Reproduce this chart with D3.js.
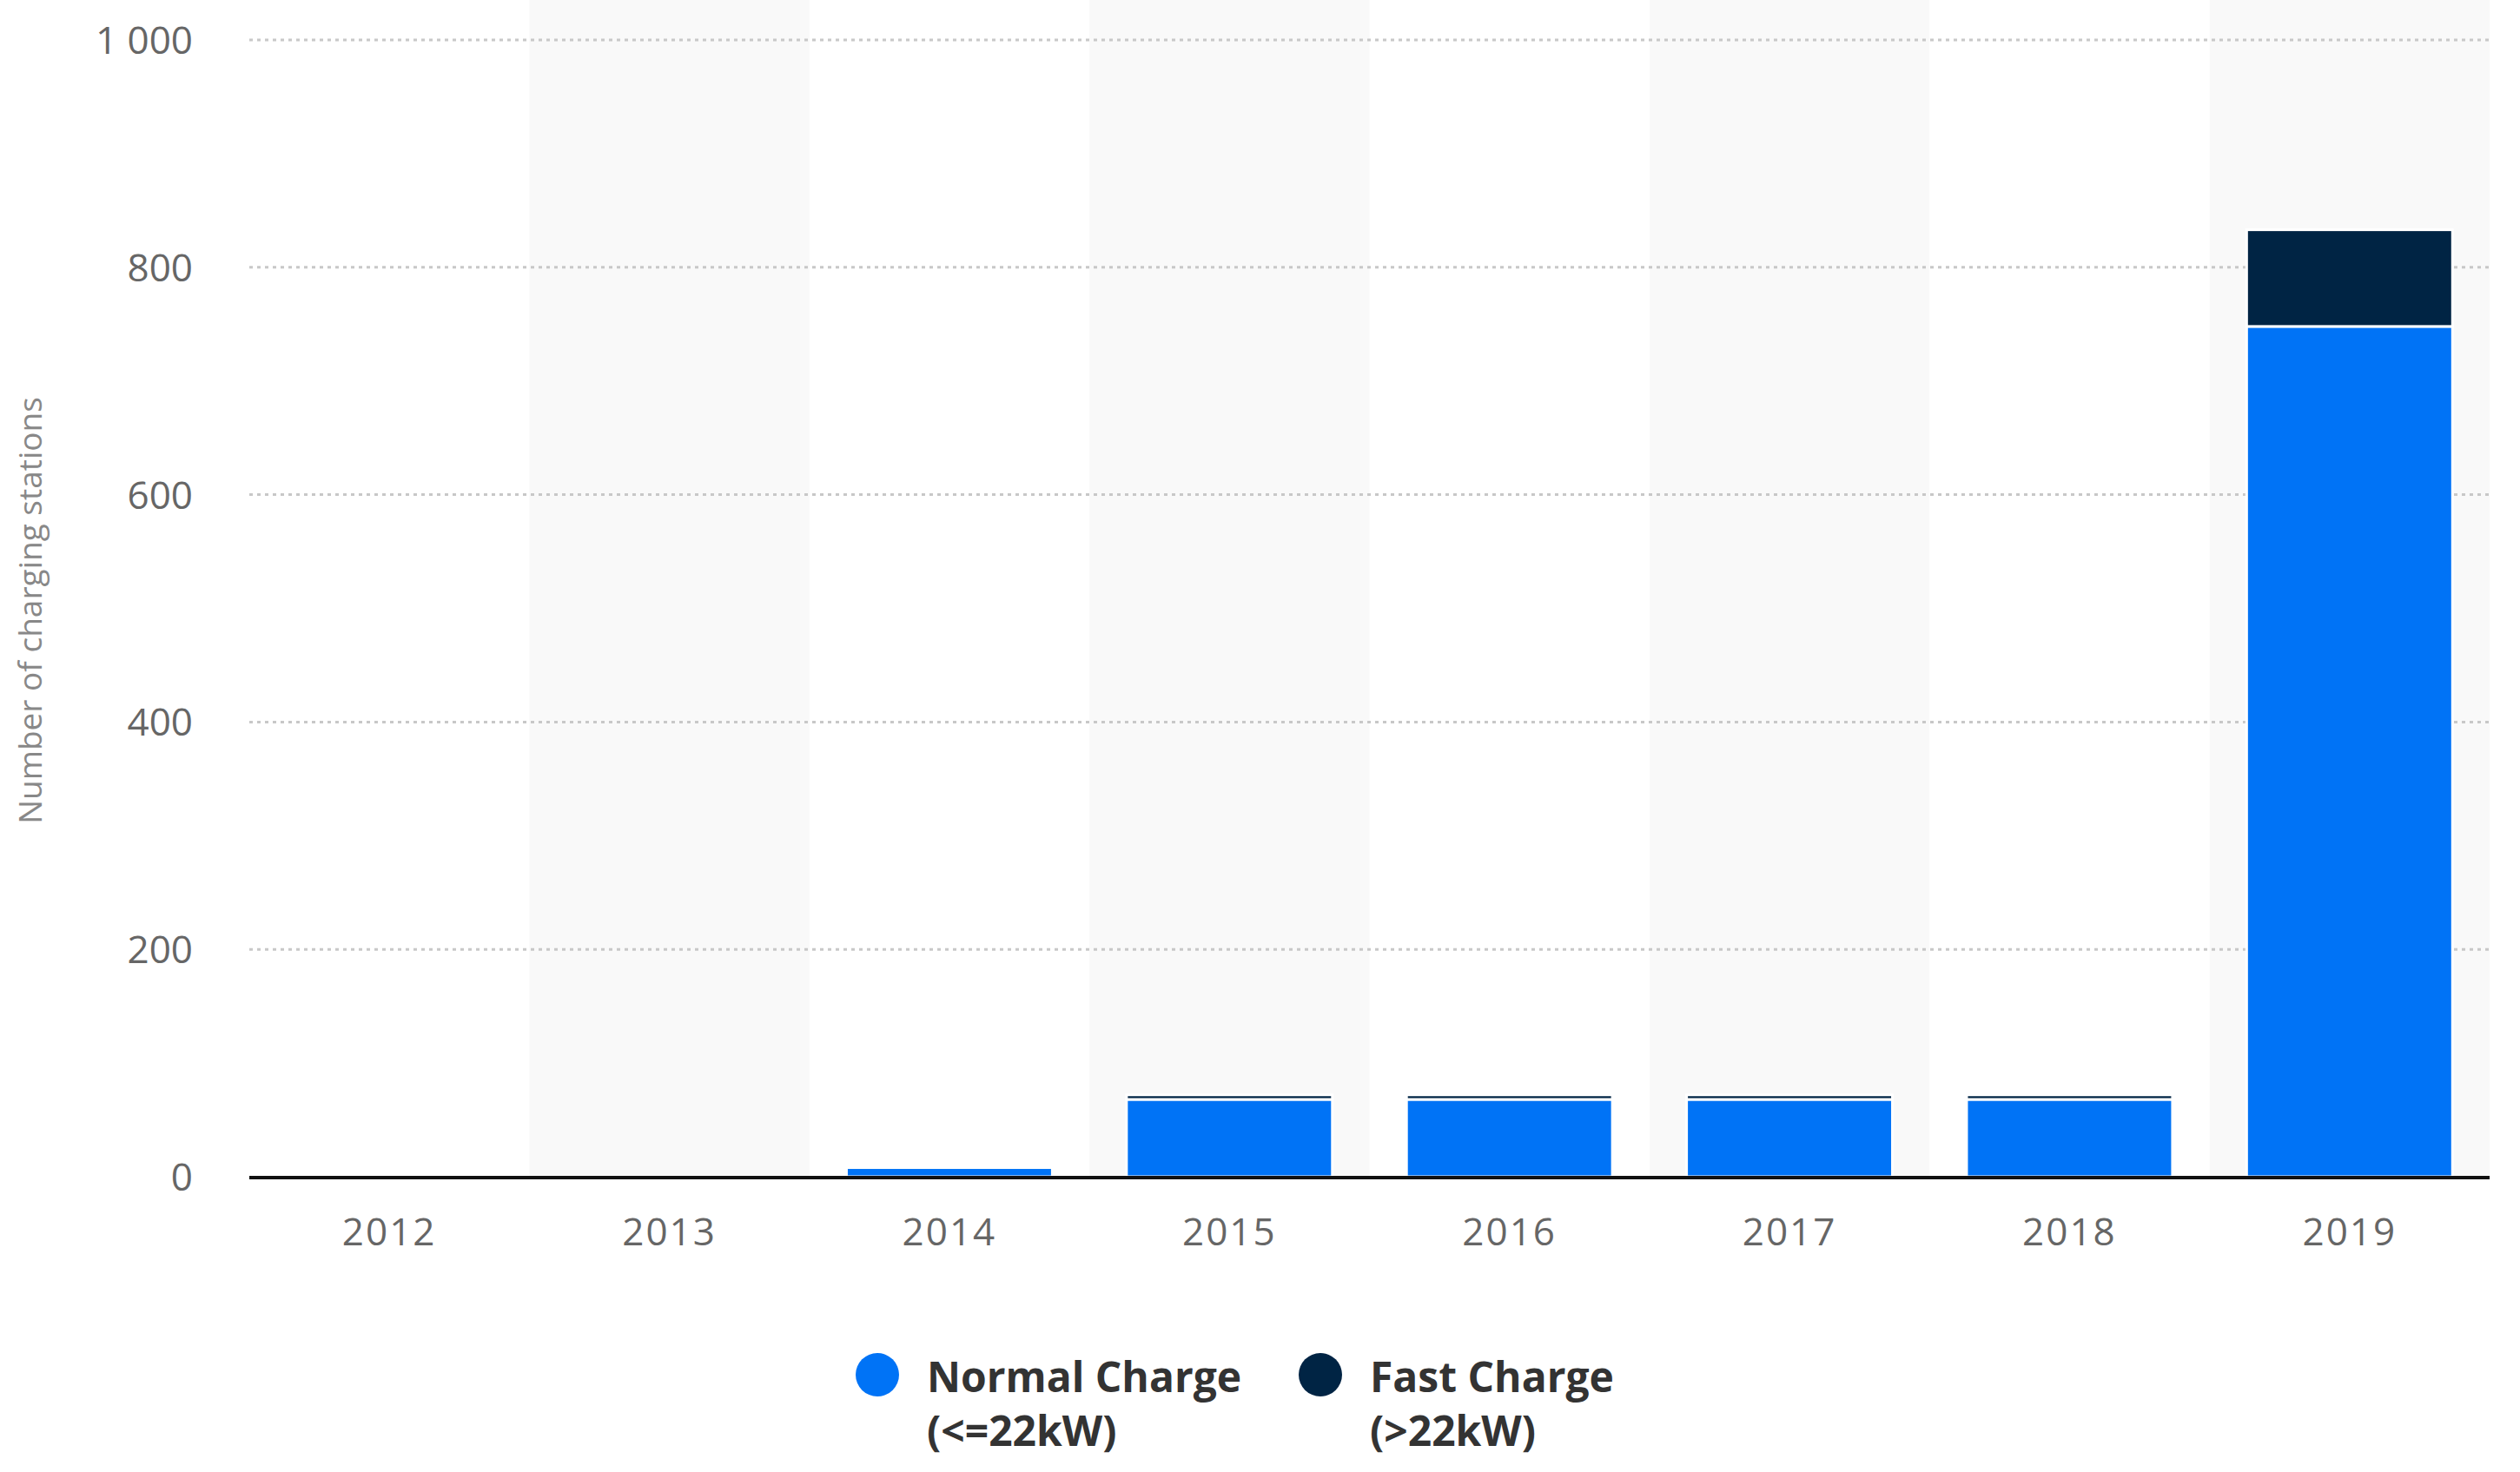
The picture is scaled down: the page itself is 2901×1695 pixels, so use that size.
<!DOCTYPE html>
<html>
<head>
<meta charset="utf-8">
<script src="https://cdn.jsdelivr.net/npm/d3@7"></script>
<style>
body { margin: 0; background: #fff; }
text { font-family: "Open Sans", "Noto Sans", sans-serif; }
</style>
</head>
<body>
<div id="chart"></div>
<script>
let years = ["2012", "2013", "2014", "2015", "2016", "2017", "2018", "2019"];
let normalCharge = [0, 0, 8, 68, 68, 68, 68, 748];
let fastCharge = [0, 0, 0, 4, 4, 4, 4, 85];
let yTicks = [0, 200, 400, 600, 800, 1000];
let seriesNames = ["Normal Charge", "Fast Charge"];
let seriesSub = ["(<=22kW)", "(>22kW)"];
let colors = ["#0073f6", "#002444"];

let width = 2901, height = 1695;
let plotLeft = 287, plotRight = 2866, plotTop = 46, plotBottom = 1355;

let svg = d3.select("#chart").append("svg")
    .attr("width", width)
    .attr("height", height);

let x = d3.scaleBand().domain(years).range([plotLeft, plotRight]).paddingInner(0.265).paddingOuter(0.1325);
let xFull = d3.scaleBand().domain(years).range([plotLeft, plotRight]);
let y = d3.scaleLinear().domain([0, 1000]).range([plotBottom, plotTop]);

// alternating column shading
svg.append("g").selectAll("rect")
    .data(years.filter((d, i) => i % 2 == 1))
  .enter().append("rect")
    .attr("x", d => xFull(d))
    .attr("y", 0)
    .attr("width", xFull.bandwidth())
    .attr("height", plotBottom)
    .attr("fill", "#f9f9f9");

// gridlines
svg.append("g").selectAll("line")
    .data(yTicks.filter(d => d > 0))
  .enter().append("line")
    .attr("x1", plotLeft).attr("x2", plotRight)
    .attr("y1", d => y(d)).attr("y2", d => y(d))
    .attr("stroke", "#c8c8c8")
    .attr("stroke-width", 3)
    .attr("stroke-dasharray", "4,5");

svg.append("g").selectAll("text")
    .data(yTicks)
  .enter().append("text")
    .attr("x", 222)
    .attr("y", d => y(d) + 16)
    .attr("text-anchor", "end")
    .attr("fill", "#666")
    .attr("font-size", 44)
    .text(d => d == 1000 ? "1 000" : d);

svg.append("text")
    .attr("transform", "translate(48," + 703 + ") rotate(-90)")
    .attr("text-anchor", "middle")
    .attr("fill", "#888")
    .attr("font-size", 37)
    .text("Number of charging stations");

// stacked bars
let stacked = years.map((yr, i) => ({year: yr, normal: normalCharge[i], fast: fastCharge[i]}));
let bars = svg.append("g");
bars.selectAll("rect.normal")
    .data(stacked.filter(d => d.normal > 0))
  .enter().append("rect")
    .attr("class", "normal")
    .attr("x", d => x(d.year))
    .attr("y", d => y(d.normal))
    .attr("width", x.bandwidth())
    .attr("height", d => y(0) - y(d.normal))
    .attr("fill", colors[0])
    .attr("stroke", "#fff")
    .attr("stroke-width", 3);
bars.selectAll("rect.fast")
    .data(stacked.filter(d => d.fast > 0))
  .enter().append("rect")
    .attr("class", "fast")
    .attr("x", d => x(d.year))
    .attr("y", d => y(d.normal + d.fast))
    .attr("width", x.bandwidth())
    .attr("height", d => y(d.normal) - y(d.normal + d.fast))
    .attr("fill", colors[1])
    .attr("stroke", "#fff")
    .attr("stroke-width", 3);

// baseline
svg.append("line")
    .attr("x1", plotLeft).attr("x2", plotRight)
    .attr("y1", plotBottom + 1).attr("y2", plotBottom + 1)
    .attr("stroke", "#111")
    .attr("stroke-width", 4);

svg.append("g").selectAll("text")
    .data(years)
  .enter().append("text")
    .attr("x", d => xFull(d) + xFull.bandwidth() / 2)
    .attr("y", 1434)
    .attr("text-anchor", "middle")
    .attr("fill", "#666")
    .attr("font-size", 44)
    .attr("letter-spacing", 2)
    .text(d => d);

// legend
let legendX = [1010, 1520];
let legend = svg.append("g").selectAll("g")
    .data(seriesNames)
  .enter().append("g")
    .attr("transform", (d, i) => "translate(" + legendX[i] + ",1583)");
legend.append("circle")
    .attr("r", 25)
    .attr("fill", (d, i) => colors[i]);
legend.append("text")
    .attr("x", 57).attr("y", 20)
    .attr("font-size", 48).attr("font-weight", "bold")
    .attr("fill", "#333")
    .text(d => d);
legend.append("text")
    .attr("x", 57).attr("y", 82)
    .attr("font-size", 48).attr("font-weight", "bold")
    .attr("fill", "#333")
    .text((d, i) => seriesSub[i]);
</script>
</body>
</html>
